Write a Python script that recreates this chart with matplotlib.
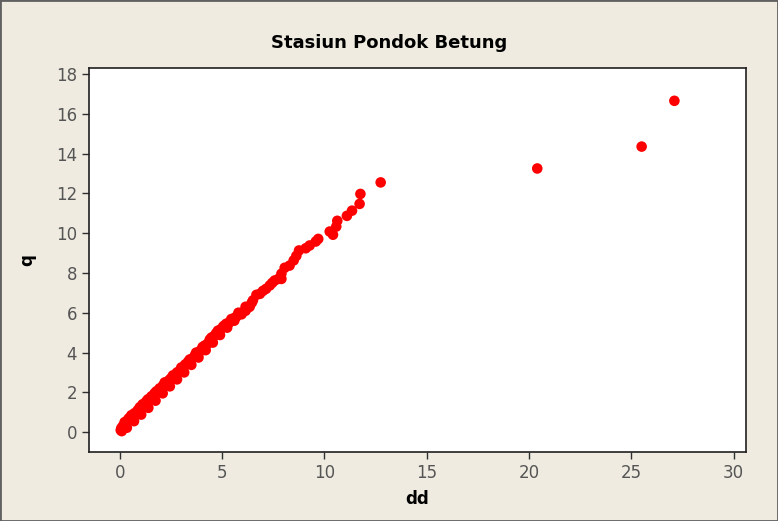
import matplotlib.pyplot as plt
from matplotlib.patches import Rectangle

# data
dd = [0.05, 0.08, 0.10, 0.15, 0.20, 0.24, 0.30, 0.38, 0.45, 0.50, 0.57, 0.65,
      0.72, 0.80, 0.88, 0.98, 1.05, 1.12, 1.20, 1.30, 1.38, 1.45, 1.55, 1.62,
      1.70, 1.79, 1.88, 1.95, 2.05, 2.12, 2.20, 2.30, 2.40, 2.50, 2.60, 2.70,
      2.80, 2.90, 3.01, 3.10, 3.20, 3.30, 3.42, 3.55, 3.65, 3.74, 3.85, 3.95,
      4.05, 4.15, 4.25, 4.35, 4.48, 4.58, 4.70, 4.80, 4.92, 5.05, 5.21, 5.35,
      5.50, 5.62, 5.70, 5.85, 6.02, 6.15, 6.25, 6.35, 6.45, 6.51, 6.68, 6.85,
      7.00, 7.15, 7.33, 7.45, 7.57, 7.75, 7.90, 7.90, 8.06, 8.30, 8.50, 8.63,
      8.76, 9.09, 9.28, 9.58, 9.70, 10.26, 10.42, 10.58, 10.63, 11.10, 11.35,
      11.72, 11.76, 12.75, 20.40, 25.50, 27.10,
      # extra points along the dense part of the line
      0.30, 0.60, 0.95, 1.25, 1.60, 1.95, 2.30, 2.65, 3.00, 3.35, 3.70, 4.05,
      4.40, 4.75, 5.10, 5.45, 5.80, 6.15, 0.35, 0.70, 1.05, 1.40, 1.75,
      2.10, 2.45, 2.80, 3.15, 3.50, 3.85, 4.20, 4.55, 4.90, 5.25, 5.60, 5.95]
q = [0.10, 0.20, 0.05, 0.30, 0.25, 0.50, 0.40, 0.60, 0.70, 0.62, 0.85, 0.80,
     0.95, 0.90, 1.10, 1.25, 1.20, 1.40, 1.35, 1.55, 1.65, 1.60, 1.80, 1.75,
     1.95, 2.05, 2.00, 2.20, 2.15, 2.35, 2.50, 2.45, 2.60, 2.70, 2.85, 2.80,
     3.00, 3.05, 3.25, 3.20, 3.40, 3.45, 3.65, 3.70, 3.80, 4.00, 3.95, 4.10,
     4.15, 4.35, 4.40, 4.50, 4.75, 4.80, 4.95, 5.10, 5.15, 5.30, 5.45, 5.50,
     5.65, 5.75, 5.80, 5.95, 6.03, 6.10, 6.25, 6.30, 6.50, 6.62, 6.90, 6.95,
     7.10, 7.20, 7.37, 7.50, 7.62, 7.70, 7.70, 7.96, 8.26, 8.37, 8.63, 8.86,
     9.13, 9.24, 9.38, 9.58, 9.71, 10.08, 9.92, 10.33, 10.62, 10.87, 11.13,
     11.47, 11.97, 12.55, 13.25, 14.35, 16.65,
     0.45, 0.75, 1.12, 1.43, 1.78, 2.13, 2.48, 2.83, 3.18, 3.55, 3.92, 4.28,
     4.65, 5.00, 5.35, 5.68, 6.00, 6.30, 0.22, 0.55, 0.88, 1.22, 1.58,
     1.95, 2.30, 2.65, 3.00, 3.38, 3.75, 4.12, 4.50, 4.88, 5.25, 5.60, 5.92]

x_ticks = [0, 5, 10, 15, 20, 25, 30]
y_ticks = [0, 2, 4, 6, 8, 10, 12, 14, 16, 18]

bg = '#efebe1'
fig = plt.figure(figsize=(7.78, 5.21), dpi=100, facecolor=bg)
ax = fig.add_axes([0.1144, 0.1324, 0.8445, 0.7371])
ax.set_facecolor('white')

ax.scatter(dd, q, s=58, color='#ff0000', edgecolors='none', zorder=3)

ax.set_xlim(-1.5, 30.6)
ax.set_ylim(-1.0, 18.3)
ax.set_xticks(x_ticks)
ax.set_yticks(y_ticks)
ax.tick_params(direction='out', length=5, width=1, color='#303030',
               labelsize=12, labelcolor='#555555')
for sp in ax.spines.values():
    sp.set_color('#202020')
    sp.set_linewidth(1.2)

fig.text(0.5, 0.918, 'Stasiun Pondok Betung', ha='center', va='center',
         fontsize=13, fontweight='bold', color='black')
ax.set_xlabel('dd', fontsize=12, fontweight='bold', labelpad=6)
ax.set_ylabel('q', fontsize=12, fontweight='bold', labelpad=14)

fig.patches.append(Rectangle((0, 0), 1, 1, transform=fig.transFigure,
                             fill=False, edgecolor='#606060', linewidth=2))

fig.savefig('out.png', dpi=100, facecolor=bg)
